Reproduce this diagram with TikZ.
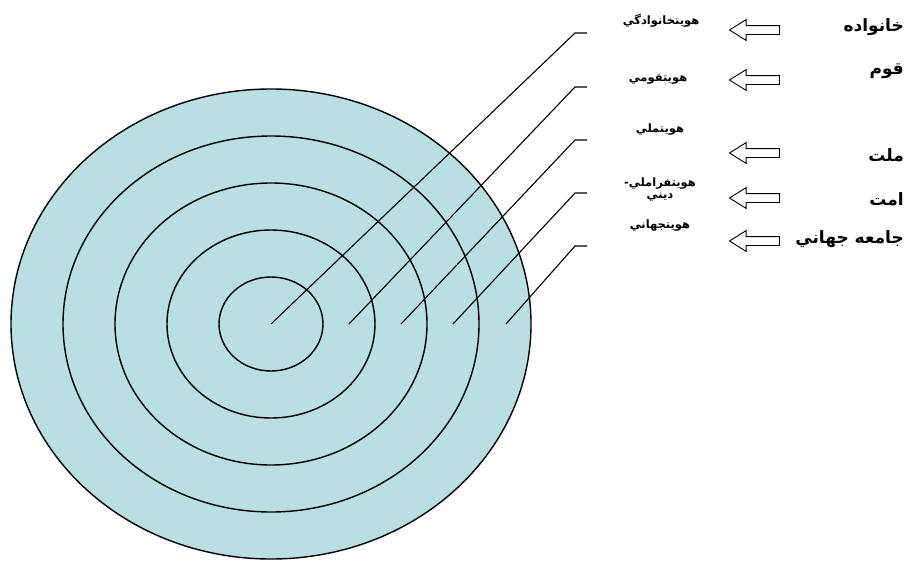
\documentclass[tikz,border=0pt]{standalone}
\usepackage{fontspec}
\usepackage{tikz}
\usetikzlibrary{shapes.arrows}
\newfontfamily\arabicfont[Script=Arabic]{DejaVu Sans}
\TeXXeTstate=1
\definecolor{ringblue}{HTML}{B9DFE2}

\begin{document}
\begin{tikzpicture}[x=1pt, y=-1pt,
  ring/.style={draw, line width=1.4pt, fill=ringblue},
  leader/.style={line width=1.1pt},
  idlabel/.style={font=\arabicfont\bfseries\fontsize{11.5}{12}\selectfont, align=center, inner sep=1pt},
  grouplabel/.style={font=\arabicfont\bfseries\fontsize{17}{19}\selectfont, anchor=east, inner sep=1pt},
  hollowarrow/.style={single arrow, draw, line width=0.9pt, shape border rotate=180,
    minimum height=50pt, inner sep=4pt, single arrow head extend=6pt, single arrow tip angle=64}]
  \useasboundingbox (0,0) rectangle (907,570);
  % rings
  \foreach \k in {5,4,3,2,1}
    \draw[ring] (271,324) ellipse [x radius=52*\k, y radius=47*\k];
  % leader lines
  \coordinate (s1) at (271,324);
  \coordinate (s2) at (349,324);
  \coordinate (s3) at (401,324);
  \coordinate (s4) at (453,324);
  \coordinate (s5) at (506,324);
  \coordinate (b1) at (575,33);
  \coordinate (b2) at (575,87);
  \coordinate (b3) at (575,140);
  \coordinate (b4) at (575,193);
  \coordinate (b5) at (575,246);
  \foreach \i in {1,...,5}
    \draw[leader] (s\i) -- (b\i) -- ++(12,0);
  % identity labels
  \node[idlabel] (id1) at (661,21) {\beginR هويتخانوادگي\endR};
  \node[idlabel] (id2) at (658,79) {\beginR هويتقومي\endR};
  \node[idlabel] (id3) at (660,130) {\beginR هويتملي\endR};
  \node[idlabel] (id4) at (660,190) {\beginR هويتفراملي-\endR\\\beginR ديني\endR};
  \node[idlabel] (id5) at (660,226) {\beginR هويتجهاني\endR};
  % block arrows
  \node[hollowarrow] (arr1) at (758,30) {};
  \node[hollowarrow] (arr2) at (758,80) {};
  \node[hollowarrow] (arr3) at (758,153) {};
  \node[hollowarrow] (arr4) at (758,198) {};
  \node[hollowarrow] (arr5) at (758,241) {};
  % group labels
  \node[grouplabel] (grp1) at (905,27) {\beginR خانواده\endR};
  \node[grouplabel] (grp2) at (905,71) {\beginR قوم\endR};
  \node[grouplabel] (grp3) at (905,155) {\beginR ملت\endR};
  \node[grouplabel] (grp4) at (905,199) {\beginR امت\endR};
  \node[grouplabel] (grp5) at (905,239) {\beginR جامعه جهاني\endR};
\end{tikzpicture}
\end{document}
